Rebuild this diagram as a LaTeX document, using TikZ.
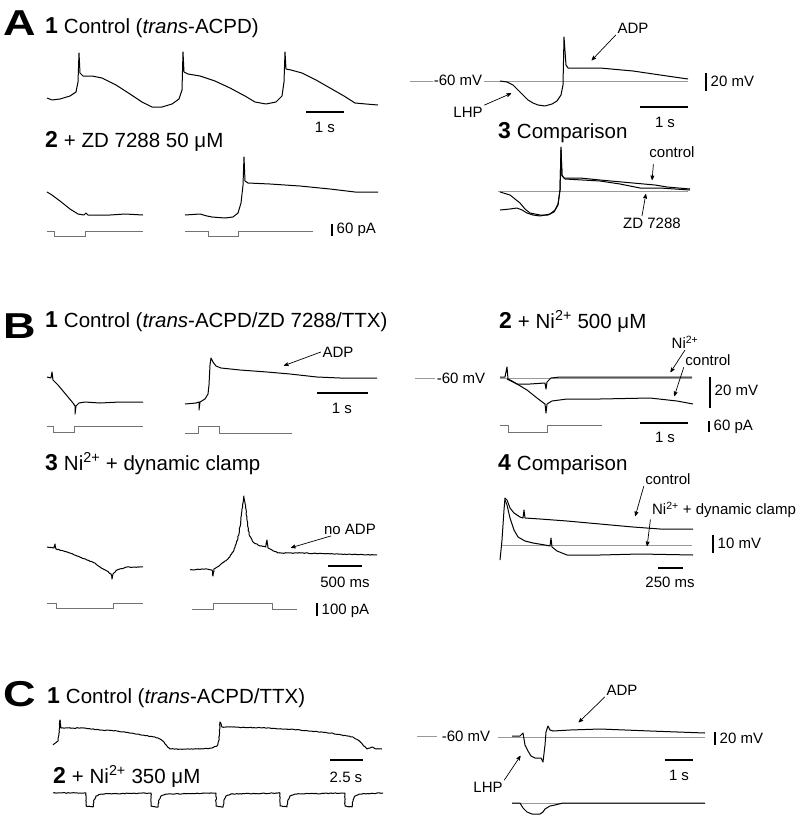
\documentclass[tikz,border=0pt]{standalone}
\usepackage{fontspec}
\setmainfont{Liberation Sans}
\usepackage{tikz}
\usetikzlibrary{positioning, arrows, decorations.pathmorphing}

\newcommand{\pnum}[1]{{\fontsize{23}{26}\selectfont\bfseries #1}\hspace{6pt}}

\begin{document}
\begin{tikzpicture}[%
    x=1pt, y=-1pt,
    >=stealth',
    trace/.style={black, line width=1pt, line join=round},
    noisy/.style={trace, decorate, decoration={random steps, segment length=1.5pt, amplitude=0.35pt}},
    stim/.style={black!55, line width=0.8pt},
    zero/.style={black!40, line width=0.5pt},
    bar/.style={black, line width=1.6pt},
    panel/.style={anchor=base west, inner sep=0pt, font=\fontsize{36}{40}\selectfont\bfseries},
    ttl/.style={anchor=base west, inner sep=0pt, font=\fontsize{20.5}{24}\selectfont},
    lbl/.style={inner sep=1.5pt, font=\fontsize{15}{18}\selectfont},
    lbw/.style={lbl, anchor=west},
    pnt/.style={->, line width=0.7pt, shorten >=1pt}
  ]
    \path[fill=white, use as bounding box] (0,0) rectangle (800,822);

    % ---------- A ----------
    \node[panel] (A) at (3,35) {\scalebox{1.25}[1]{A}};
    \node[ttl] (a1) at (45,33) {\pnum{1}Control (\textit{trans}-ACPD)};
    \draw[trace] (47,98) -- (52,100) -- (60,99) -- (70,96) -- (76,92) -- (78,82) -- (79,53) -- (80,73) -- (83,76) -- (92,76) -- (102,78) -- (116,85) -- (130,94) -- (142,102) -- (152,107) -- (162,107) -- (172,104) -- (179,99) -- (182,90) -- (183,52) -- (184,72) -- (188,74) -- (200,76) -- (215,81) -- (230,88) -- (245,96) -- (255,102) -- (266,104) -- (276,102) -- (282,96) -- (284,82) -- (285,52) -- (286,69) -- (291,70) -- (302,73) -- (316,80) -- (330,88) -- (344,96) -- (355,103) -- (366,104) -- (378,105);
    \draw[bar] (306,112) -- (344,112);
    \node[lbl] (sA1) at (325,127) {1 s};

    \node[ttl] (a2) at (45,147) {\pnum{2}+ ZD 7288 50 μM};
    \draw[trace] (47,192) -- (52,195) -- (60,201) -- (70,209) -- (78,214) -- (84,215) -- (86,213) -- (88,215) -- (110,215) -- (125,214) -- (143,215);
    \draw[trace] (185,215) -- (200,214) -- (207,216) -- (212,217) -- (225,218) -- (233,217) -- (238,213) -- (241,203) -- (243,185) -- (244,157) -- (245,181) -- (248,183) -- (270,184) -- (300,186) -- (330,189) -- (355,192) -- (378,192);
    \draw[stim] (47,231) -- (54,231) -- (54,236) -- (85,236) -- (85,231) -- (143,231);
    \draw[stim] (185,231) -- (208,231) -- (208,236) -- (238,236) -- (238,231) -- (313,231);
    \draw[bar] (332,224) -- (332,236);
    \node[lbw] (pA2) at (335,230) {60 pA};

    \draw[zero] (410,81) -- (433,81);
    \draw[zero] (484,81) -- (688,81);
    \node[lbl] (mvA) at (458,80) {-60 mV};
    \draw[trace] (500,81) -- (507,82) -- (513,85) -- (518,90) -- (523,95) -- (528,100) -- (533,103) -- (538,105) -- (545,106) -- (552,104) -- (557,101) -- (561,95) -- (563,85) -- (564,37) -- (566,65) -- (568,68) -- (580,68) -- (600,68) -- (633,71) -- (667,76) -- (688,79);
    \coordinate (adpAt) at (591,61);
    \coordinate (lhpAt) at (512,93);
    \node[lbl] (adpA) at (633,28) {ADP};
    \node[lbl] (lhpA) at (468,112) {LHP};
    \draw[pnt] (adpA.south west) -- (adpAt);
    \draw[pnt] (lhpA.north east) -- (lhpAt);
    \draw[bar] (706,73) -- (706,91);
    \node[lbw] (vA) at (709,81) {20 mV};
    \draw[bar] (640,107) -- (688,107);
    \node[lbl] (sA) at (665,122) {1 s};

    \node[ttl] (a3) at (498,138) {\pnum{3}Comparison};
    \draw[zero] (498,191) -- (688,191);
    \draw[trace] (500,192) -- (510,195) -- (515,199) -- (520,203) -- (525,209) -- (530,213) -- (540,215) -- (548,215) -- (554,212) -- (558,205) -- (560,190) -- (561,147) -- (562,175) -- (564,178) -- (580,178) -- (600,180) -- (633,183) -- (655,185) -- (667,187) -- (690,189);
    \draw[trace] (500,210) -- (510,209) -- (517,208) -- (522,210) -- (527,213) -- (533,215) -- (540,216) -- (550,214) -- (555,210) -- (558,204) -- (560,190) -- (561,150) -- (562,176) -- (565,179) -- (600,181) -- (620,184) -- (640,188) -- (660,188) -- (690,190);
    \coordinate (ctlAt) at (652,181);
    \coordinate (zdAt) at (646,193);
    \node[lbl] (ctlA) at (672,152) {control};
    \node[lbl] (zdA) at (652,223) {ZD 7288};
    \draw[pnt, shorten <=5pt] (ctlA.south west) ++(6,0) -- (ctlAt);
    \draw[pnt] ([xshift=-10pt]zdA.north) -- (zdAt);

    % ---------- B ----------
    \node[panel] (B) at (3,338) {\scalebox{1.25}[1]{B}};
    \node[ttl] (b1) at (45,327) {\pnum{1}Control (\textit{trans}-ACPD/ZD 7288/TTX)};
    \draw[trace] (47,377) -- (51,378) -- (52,372) -- (53,380) -- (58,385) -- (63,391) -- (68,397) -- (73,403) -- (75,406) -- (75,414) -- (76,406) -- (79,403) -- (85,402) -- (100,403) -- (120,402) -- (143,402);
    \draw[trace] (185,404) -- (196,403) -- (199,402) -- (199,410) -- (200,402) -- (205,399) -- (208,394) -- (209,385) -- (210,365) -- (211,358) -- (213,362) -- (216,366) -- (221,368) -- (240,370) -- (267,372) -- (290,374) -- (317,377) -- (340,378) -- (377,378);
    \coordinate (adpBt) at (283,366);
    \node[lbl] (adpB) at (338,352) {ADP};
    \draw[pnt] (adpB.west) -- (adpBt);
    \draw[bar] (317,393) -- (368,393);
    \node[lbl] (sB1) at (342,408) {1 s};
    \draw[stim] (47,426) -- (53,426) -- (53,432) -- (74,432) -- (74,426) -- (143,426);
    \draw[stim] (185,433) -- (198,433) -- (198,426) -- (219,426) -- (219,433) -- (292,433);

    \node[ttl] (b3) at (45,470) {\pnum{3}Ni\textsuperscript{2+} + dynamic clamp};
    \draw[noisy] (47,547) -- (54,548) -- (55,544) -- (56,549) -- (67,552) -- (77,556) -- (87,560) -- (95,563) -- (100,567) -- (107,571) -- (111,574) -- (112,579) -- (113,574) -- (117,570) -- (127,567) -- (143,567);
    \draw[noisy] (190,570) -- (205,569) -- (212,570) -- (213,576) -- (214,569) -- (220,565) -- (228,559) -- (234,550) -- (238,538) -- (241,520) -- (243,503) -- (244,496) -- (245,503) -- (247,520) -- (249,534) -- (253,542) -- (260,546) -- (266,547) -- (267,540) -- (268,548) -- (272,550) -- (278,553) -- (300,553) -- (340,554) -- (377,555);
    \coordinate (noBt) at (290,548);
    \node[lbl] (noB) at (350,529) {no ADP};
    \draw[pnt] (noB.200) -- (noBt);
    \draw[bar] (328,566) -- (362,566);
    \node[lbl] (sB3) at (345,582) {500 ms};
    \draw[stim] (47,603) -- (56,603) -- (56,608) -- (113,608) -- (113,603) -- (143,603);
    \draw[stim] (192,609) -- (213,609) -- (213,603) -- (272,603) -- (272,609) -- (297,609);
    \draw[bar] (317,603) -- (317,616);
    \node[lbw] (pB3) at (320,611) {100 pA};

    \node[ttl] (b2) at (499,328) {\pnum{2}+ Ni\textsuperscript{2+} 500 μM};
    \draw[zero] (415,378) -- (435,378);
    \draw[zero] (500,378) -- (692,378);
    \node[lbl] (mvB) at (461,378) {-60 mV};
    \draw[trace] (500,377) -- (505,377) -- (507,367) -- (508,379) -- (512,381) -- (517,384) -- (530,384) -- (545,383) -- (546,389) -- (547,382) -- (551,378) -- (560,377) -- (600,377) -- (650,377) -- (692,377);
    \draw[trace] (507,379) -- (517,384) -- (527,390) -- (537,398) -- (545,404) -- (546,413) -- (547,404) -- (552,401) -- (567,399) -- (600,399) -- (650,398) -- (677,401) -- (693,404);
    \coordinate (niBt) at (670,373);
    \coordinate (ctlBt) at (674,397);
    \node[lbl] (niB) at (685,342) {Ni\textsuperscript{2+}};
    \node[lbl] (ctlB) at (708,360) {control};
    \draw[pnt] (niB.south) -- (niBt);
    \draw[pnt] (ctlB.south west) -- (ctlBt);
    \draw[bar] (710,377) -- (710,408);
    \node[lbw] (vB) at (713,390) {20 mV};
    \draw[stim] (500,425) -- (508,425) -- (508,432) -- (547,432) -- (547,425) -- (602,425);
    \draw[bar] (640,423) -- (688,423);
    \node[lbl] (sB2) at (665,437) {1 s};
    \draw[bar] (709,421) -- (709,432);
    \node[lbw] (pB2) at (712,427) {60 pA};

    \node[ttl] (b4) at (498,470) {\pnum{4}Comparison};
    \draw[zero] (502,545) -- (692,545);
    \draw[trace] (500,560) -- (502,540) -- (504,510) -- (505,498) -- (507,500) -- (510,508) -- (514,513) -- (520,517) -- (523,518) -- (524,510) -- (525,518) -- (540,519) -- (567,521) -- (600,524) -- (633,527) -- (660,529) -- (693,529);
    \draw[trace] (505,500) -- (507,505) -- (510,518) -- (514,530) -- (518,537) -- (525,541) -- (533,543) -- (545,545) -- (550,546) -- (551,538) -- (552,547) -- (557,551) -- (567,555) -- (600,555) -- (640,554) -- (693,555);
    \coordinate (ctlB4t) at (635,517);
    \coordinate (dcBt) at (647,547);
    \node[lbl] (ctlB4) at (668,479) {control};
    \node[lbl] (dcB) at (724,510) {Ni\textsuperscript{2+} + dynamic clamp};
    \draw[pnt] (ctlB4.south west) -- (ctlB4t);
    \draw[pnt] (dcB.south west) -- (dcBt);
    \draw[bar] (713,535) -- (713,553);
    \node[lbw] (vB4) at (716,543) {10 mV};
    \draw[bar] (658,568) -- (683,568);
    \node[lbl] (sB4) at (670,582) {250 ms};

    % ---------- C ----------
    \node[panel] (C) at (3,706) {\scalebox{1.25}[1]{C}};
    \node[ttl] (c1) at (47,703) {\pnum{1}Control (\textit{trans}-ACPD/TTX)};
    \draw[noisy] (53,745) -- (58,741) -- (59,735) -- (60,720) -- (61,728) -- (65,728) -- (83,728) -- (100,730) -- (117,731) -- (130,733) -- (143,735) -- (155,737) -- (160,739) -- (164,742) -- (167,746) -- (170,749) -- (185,749) -- (200,749) -- (212,748) -- (217,746) -- (219,740) -- (220,722) -- (222,727) -- (230,727) -- (267,728) -- (300,730) -- (330,733) -- (353,737) -- (358,740) -- (363,745) -- (367,749) -- (372,747) -- (376,749) -- (382,749);
    \draw[bar] (330,760) -- (363,760);
    \node[lbl] (sC1) at (346,777) {2.5 s};

    \node[ttl] (c2) at (53,783) {\pnum{2}+ Ni\textsuperscript{2+} 350 μM};
    \draw[noisy] (53,793) -- (86,793) -- (86,806) -- (93,807) -- (94,800) -- (96,796) -- (101,794) -- (151,793) -- (151,806) -- (158,807) -- (159,800) -- (161,796) -- (166,794) -- (216,793) -- (216,806) -- (223,807) -- (224,800) -- (226,796) -- (231,794) -- (280,793) -- (280,806) -- (287,807) -- (288,800) -- (290,796) -- (295,794) -- (345,793) -- (345,806) -- (352,807) -- (353,800) -- (355,796) -- (360,794) -- (383,793);

    \draw[zero] (417,736) -- (437,736);
    \draw[zero] (498,737) -- (705,737);
    \node[lbl] (mvC) at (466,736) {-60 mV};
    \draw[trace] (512,736) -- (520,736) -- (523,733) -- (525,745) -- (528,751) -- (531,756) -- (535,758) -- (541,758) -- (543,762) -- (545,745) -- (546,732) -- (548,726) -- (550,730) -- (553,731) -- (570,730) -- (600,729) -- (650,731) -- (705,733);
    \coordinate (adpCt) at (578,723);
    \coordinate (lhpCt) at (521,755);
    \node[lbl] (adpC) at (622,690) {ADP};
    \node[lbl] (lhpC) at (488,787) {LHP};
    \draw[pnt] (adpC.south west) -- (adpCt);
    \draw[pnt] (lhpC.north east) -- (lhpCt);
    \draw[bar] (715,732) -- (715,745);
    \node[lbw] (vC) at (718,738) {20 mV};
    \draw[bar] (665,760) -- (693,760);
    \node[lbl] (sC) at (679,775) {1 s};
    \draw[zero] (512,803) -- (705,803);
    \draw[trace] (512,803) -- (520,803) -- (523,808) -- (527,812) -- (532,814) -- (540,814) -- (543,812) -- (545,809) -- (550,806) -- (555,805) -- (563,803) -- (705,803);
\end{tikzpicture}
\end{document}
